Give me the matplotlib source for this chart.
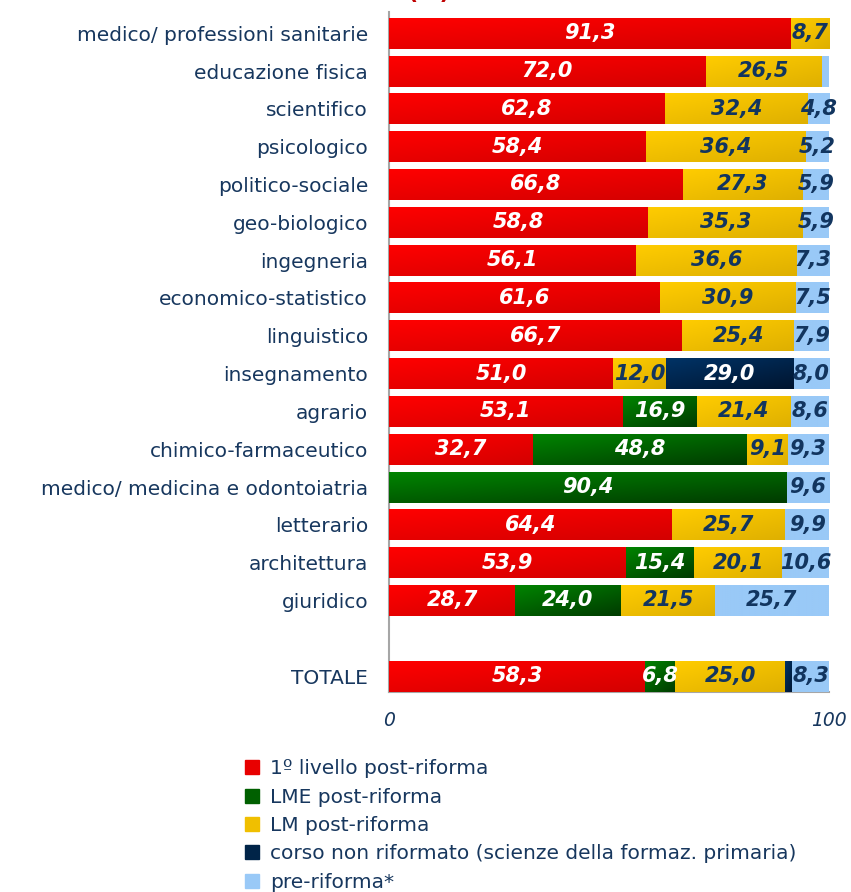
import numpy as np
import matplotlib
matplotlib.use('Agg')
import matplotlib.pyplot as plt
from matplotlib.colors import LinearSegmentedColormap
from matplotlib.lines import Line2D

categories = ['medico/ professioni sanitarie', 'educazione fisica', 'scientifico',
              'psicologico', 'politico-sociale', 'geo-biologico', 'ingegneria',
              'economico-statistico', 'linguistico', 'insegnamento', 'agrario',
              'chimico-farmaceutico', 'medico/ medicina e odontoiatria', 'letterario',
              'architettura', 'giuridico', '', 'TOTALE']

primo_livello = [91.3, 72.0, 62.8, 58.4, 66.8, 58.8, 56.1, 61.6, 66.7, 51.0, 53.1, 32.7, 0, 64.4, 53.9, 28.7, 0, 58.3]
lme = [0, 0, 0, 0, 0, 0, 0, 0, 0, 0, 16.9, 48.8, 90.4, 0, 15.4, 24.0, 0, 6.8]
lm = [8.7, 26.5, 32.4, 36.4, 27.3, 35.3, 36.6, 30.9, 25.4, 12.0, 21.4, 9.1, 0, 25.7, 20.1, 21.5, 0, 25.0]
non_riformato = [0, 0, 0, 0, 0, 0, 0, 0, 0, 29.0, 0, 0, 0, 0, 0, 0, 0, 1.6]
pre_riforma = [0, 1.5, 4.8, 5.2, 5.9, 5.9, 7.3, 7.5, 7.9, 8.0, 8.6, 9.3, 9.6, 9.9, 10.6, 25.7, 0, 8.3]

series_names = ['1º livello post-riforma', 'LME post-riforma', 'LM post-riforma',
                'corso non riformato (scienze della formaz. primaria)', 'pre-riforma*']
series = [primo_livello, lme, lm, non_riformato, pre_riforma]

# gradient colours (light -> dark), flat colour for legend, label colour
grads = [('#ff0000', '#d40000'), ('#008400', '#003c00'), ('#ffcc00', '#dfb000'),
         ('#003366', '#001530'), ('#99c9f7', '#99c9f7')]
flat = ['#e80000', '#006000', '#f0bf00', '#002448', '#99c9f7']
lab_col = ['white', 'white', '#12355f', 'white', '#12355f']
navy = '#17375e'

fig = plt.figure(figsize=(8.51, 8.92), dpi=100)
ax = fig.add_axes([0.457, 0.2242, 0.517, 0.7623])

y = np.arange(len(categories))
left = np.zeros(len(categories))
gx, gy = np.meshgrid(np.linspace(0, 1, 64), np.linspace(0, 1, 16))
z = 0.45 * gx + 0.55 * gy

for vals, (c1, c2), fc, lc in zip(series, grads, flat, lab_col):
    vals = np.array(vals)
    bars = ax.barh(y, vals, left=left, height=0.82, color=fc, linewidth=0, zorder=2)
    cmap = LinearSegmentedColormap.from_list('g', [c1, c2])
    for b, v in zip(bars, vals):
        if v <= 0:
            continue
        x0, y0 = b.get_x(), b.get_y()
        im = ax.imshow(z, cmap=cmap, vmin=0, vmax=1, origin='lower', aspect='auto',
                       extent=[x0, x0 + b.get_width(), y0, y0 + b.get_height()],
                       interpolation='bilinear', zorder=3)
        im.set_clip_path(b)
        if v >= 3:
            ax.text(x0 + b.get_width() / 2, b.get_y() + b.get_height() / 2,
                    f'{v:.1f}'.replace('.', ','), ha='center', va='center',
                    color=lc, fontsize=15, fontweight='bold', fontstyle='italic', zorder=4)
    left += vals

ax.set_xlim(0, 100)
ax.set_ylim(17.42, -0.56)
ax.set_yticks(y)
ax.set_yticklabels(categories, fontsize=14.5, color=navy)
ax.set_xticks([0, 100])
ax.set_xticklabels(['0', '100'], fontsize=13.5, color=navy, fontstyle='italic')
ax.tick_params(length=0)
ax.tick_params(axis='y', pad=15)
ax.tick_params(axis='x', pad=14)
for s in ['top', 'right']:
    ax.spines[s].set_visible(False)
for s in ['left', 'bottom']:
    ax.spines[s].set_color('#a6a6a6')
    ax.spines[s].set_linewidth(1.5)

fig.text(0.503, 1.008, '(%)', color='#c00000', fontsize=16, fontweight='bold', ha='center', va='center')

handles = [Line2D([], [], marker='s', linestyle='none', markersize=9.5, color=c) for c in flat]
fig.legend(handles, series_names, loc='upper left', bbox_to_anchor=(0.287, 0.149),
           frameon=False, fontsize=14.5, labelcolor=navy, handlelength=0.8,
           handletextpad=0.5, labelspacing=0.47, borderaxespad=0, borderpad=0)

fig.savefig('out.png', dpi=100)
